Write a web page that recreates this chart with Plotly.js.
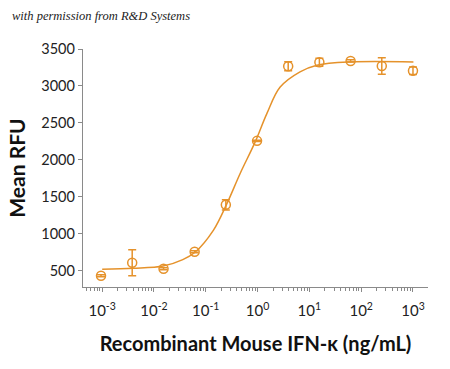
<!DOCTYPE html>
<html>
<head>
<meta charset="utf-8">
<script src="https://cdn.plot.ly/plotly-3.0.1.min.js"></script>
<style>html,body{margin:0;padding:0;background:#fff;}#chart{width:450px;height:369px;}</style>
</head>
<body>
<div id="chart"></div>
<script>
// Measured points (concentration ng/mL, mean RFU, error)
const concentrations = [0.00095, 0.0038, 0.0153, 0.061, 0.244, 0.977, 3.9, 15.6, 62.5, 250, 1000];
const meanRFU = [432, 608, 527, 757, 1392, 2257, 3266, 3320, 3338, 3270, 3205];
const errRFU = [15, 175, 15, 15, 70, 10, 60, 55, 15, 112, 50];

// Fitted curve
const curveX = [0.001, 0.004, 0.015, 0.036, 0.062, 0.141, 0.257, 0.461, 0.9, 1.51, 2.73, 6.6, 14, 61, 1020];
const curveY = [519, 532, 563, 650, 750, 1050, 1411, 1816, 2243, 2626, 2985, 3191, 3280, 3324, 3324];

const xTickVals = [0.001, 0.01, 0.1, 1, 10, 100, 1000];
const xTickText = ['10<sup>-3</sup>', '10<sup>-2</sup>', '10<sup>-1</sup>', '10<sup>0</sup>', '10<sup>1</sup>', '10<sup>2</sup>', '10<sup>3</sup>'];
const yTickVals = [500, 1000, 1500, 2000, 2500, 3000, 3500];

const orange = '#E5922B';
const axisGray = '#8a8a8a';
const narrow = 'Lato, sans-serif';

const minorVals = [];
for (let d = -4; d <= 3; d++) {
  for (let m = 2; m <= 9; m++) minorVals.push(m * Math.pow(10, d));
}

const traces = [
  {
    x: curveX, y: curveY, type: 'scatter', mode: 'lines',
    line: {color: orange, width: 1.5, shape: 'spline', smoothing: 1},
    hoverinfo: 'skip', showlegend: false
  },
  {
    x: concentrations, y: meanRFU, type: 'scatter', mode: 'markers',
    marker: {symbol: 'circle-open', size: 9, color: orange, line: {width: 1.5, color: orange}},
    error_y: {type: 'data', array: errRFU, visible: true, color: orange, thickness: 1.5, width: 4},
    showlegend: false
  }
];

const layout = {
  width: 450, height: 369,
  margin: {l: 83, r: 22, t: 49, b: 82},
  paper_bgcolor: '#fff', plot_bgcolor: '#fff',
  showlegend: false,
  xaxis: {
    type: 'log', range: [-3.37, 3.29],
    tickmode: 'array', tickvals: xTickVals, ticktext: xTickText,
    ticks: 'outside', ticklen: 4, tickcolor: axisGray, tickwidth: 1,
    ticklabelstandoff: 6,
    minor: {tickmode: 'array', tickvals: minorVals, ticks: 'outside', ticklen: 3, tickcolor: axisGray, tickwidth: 1, showgrid: false},
    showline: true, linecolor: axisGray, linewidth: 1.2,
    showgrid: false, zeroline: false,
    tickfont: {family: narrow, size: 15, color: '#222'},
    title: {text: 'Recombinant Mouse IFN-κ (ng/mL)', font: {family: narrow, size: 20, color: '#111', weight: 'bold'}, standoff: 18}
  },
  yaxis: {
    range: [280, 3500],
    tickmode: 'array', tickvals: yTickVals,
    ticks: 'outside', ticklen: 4, tickcolor: axisGray, tickwidth: 1,
    showline: true, linecolor: axisGray, linewidth: 1.2,
    showgrid: false, zeroline: false,
    tickfont: {family: narrow, size: 14.5, color: '#222'},
    title: {text: 'Mean RFU', font: {family: narrow, size: 21, color: '#111', weight: 'bold'}, standoff: 10}
  },
  annotations: [{
    text: '<i>with permission from R&amp;D Systems</i>',
    xref: 'paper', yref: 'paper', x: -0.212, y: 1.139, xanchor: 'left', yanchor: 'middle',
    showarrow: false,
    font: {family: '"Liberation Serif", "DejaVu Serif", serif', size: 12.5, color: '#222'}
  }]
};

Plotly.newPlot('chart', traces, layout, {displayModeBar: false, staticPlot: true});
</script>
</body>
</html>
